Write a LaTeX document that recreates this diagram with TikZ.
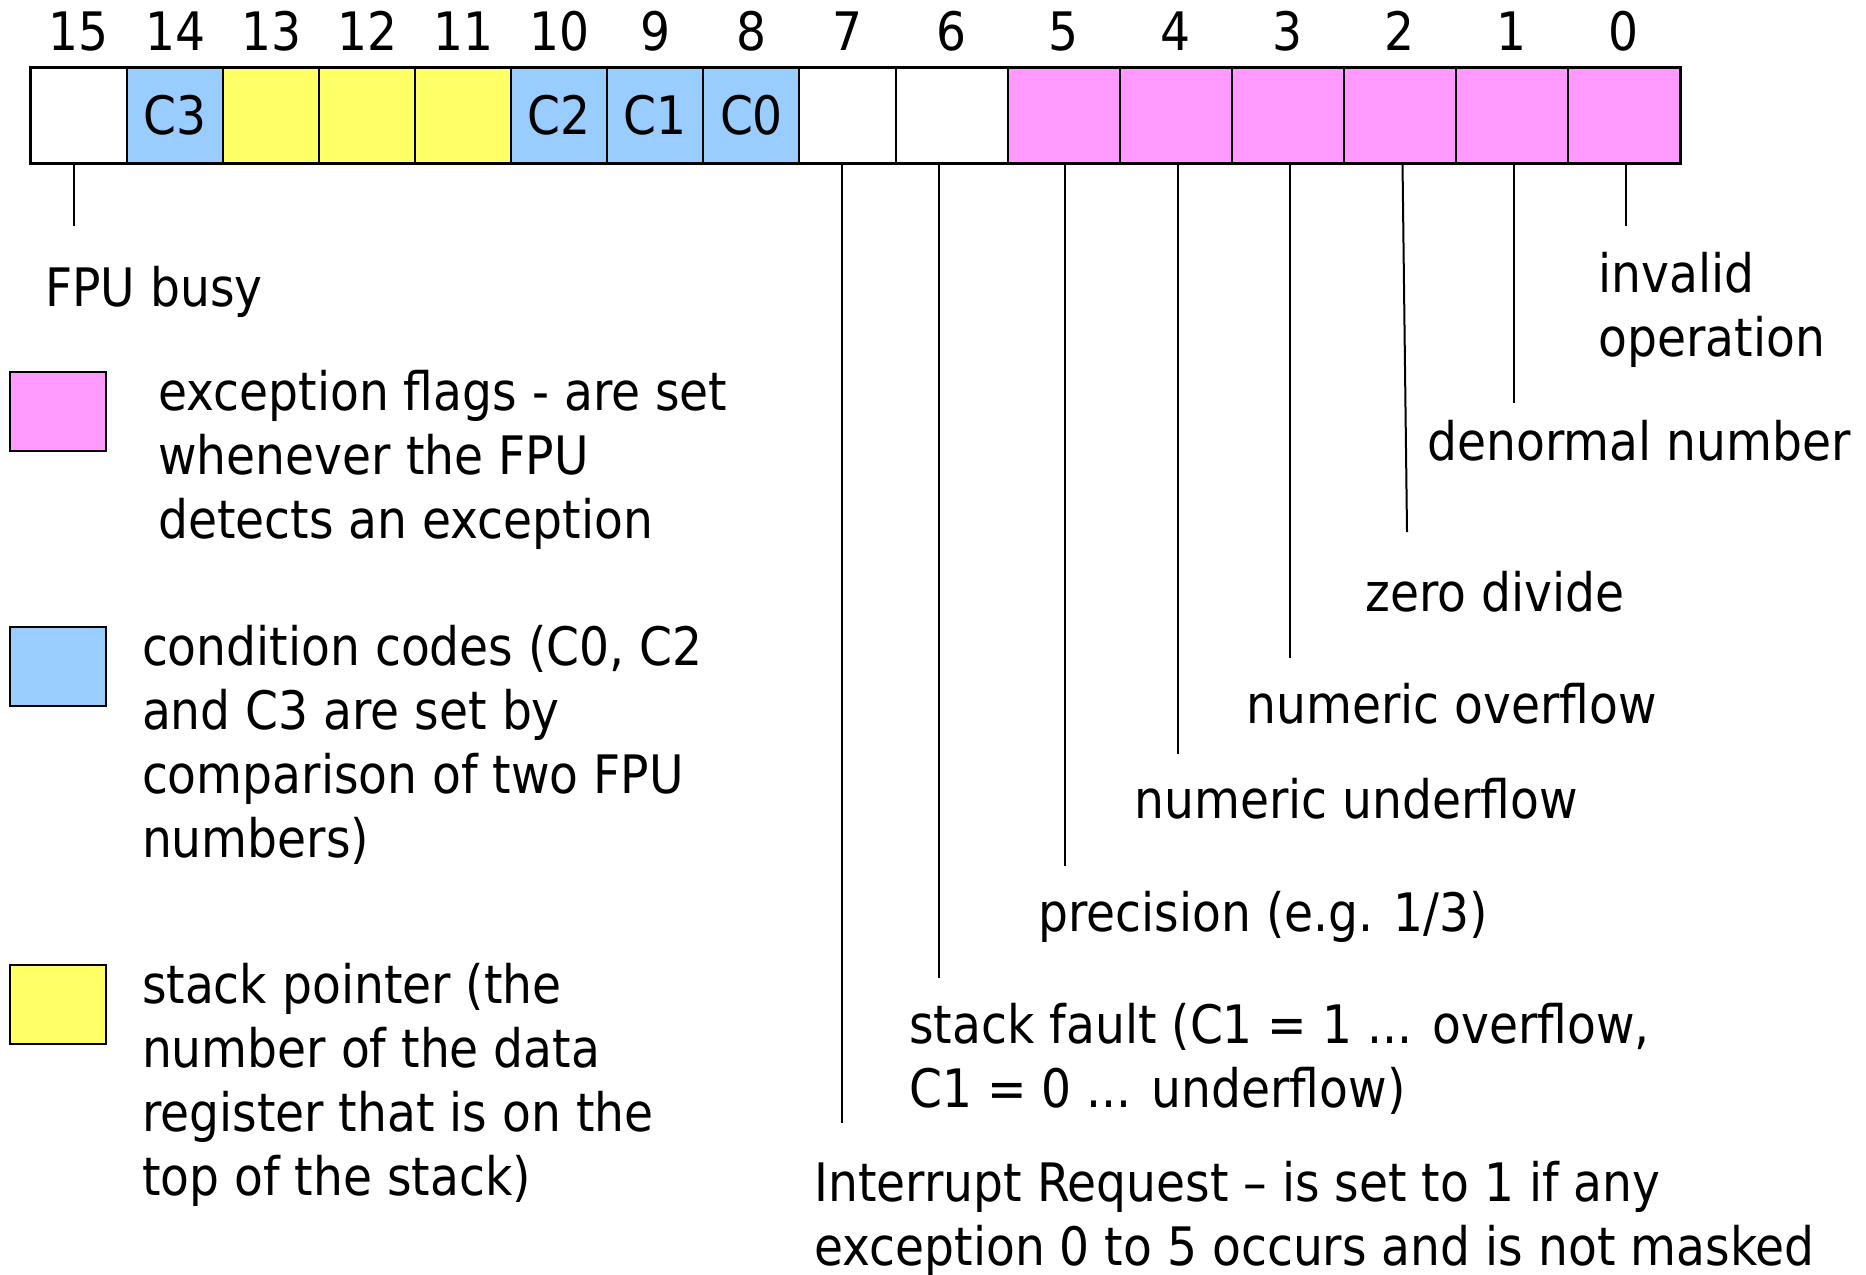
\documentclass[tikz,border=0pt]{standalone}
\usepackage{fontspec}
\setmainfont[FakeStretch=0.89]{DejaVu Sans}
\definecolor{excpink}{HTML}{FF99FF}
\definecolor{condblue}{HTML}{99CCFF}
\definecolor{stackyellow}{HTML}{FFFF66}
\newcommand\lblfont{\fontsize{26.5pt}{32pt}\selectfont}
\begin{document}
\begin{tikzpicture}[x=0.5pt,y=-0.5pt,
  cell/.style={draw=black,line width=1pt,minimum height=47.5pt,inner sep=0pt,font=\lblfont},
  narrow/.style={cell,minimum width=48.03pt},
  wide/.style={cell,minimum width=56pt},
  bitno/.style={anchor=base,inner sep=0pt,font=\lblfont},
  txt/.style={anchor=base west,inner sep=0pt,align=left,font=\lblfont},
  leader/.style={line width=1pt},
  key/.style={draw=black,line width=1pt,minimum width=48.25pt,minimum height=39.5pt,inner sep=0pt}]
\useasboundingbox (0,0) rectangle (1866,1274);

% status word cells, bit 15 down to bit 0
\node[narrow,fill=white]       (b15) at (79.0,115.5) {};
\node[narrow,fill=condblue]    (b14) at (175.1,115.5) {C3};
\node[narrow,fill=stackyellow] (b13) at (271.2,115.5) {};
\node[narrow,fill=stackyellow] (b12) at (367.2,115.5) {};
\node[narrow,fill=stackyellow] (b11) at (463.3,115.5) {};
\node[narrow,fill=condblue]    (b10) at (559.4,115.5) {C2};
\node[narrow,fill=condblue]    (b9)  at (655.4,115.5) {C1};
\node[narrow,fill=condblue]    (b8)  at (751.5,115.5) {C0};
\node[narrow,fill=white]       (b7)  at (847.5,115.5) {};
\node[wide,fill=white]         (b6)  at (951.5,115.5) {};
\node[wide,fill=excpink]       (b5)  at (1063.5,115.5) {};
\node[wide,fill=excpink]       (b4)  at (1175.5,115.5) {};
\node[wide,fill=excpink]       (b3)  at (1287.5,115.5) {};
\node[wide,fill=excpink]       (b2)  at (1399.5,115.5) {};
\node[wide,fill=excpink]       (b1)  at (1511.5,115.5) {};
\node[wide,fill=excpink]       (b0)  at (1623.5,115.5) {};
\draw[line width=1.3pt] (b15.north west) rectangle (b0.south east);

% bit numbers
\foreach \b in {15,14,...,0}
  \node[bitno] (n\b) at (b\b.north |- 0,50) {\b};

% descriptions (multi-line nodes are placed by their last baseline)
\node[txt] (t15) at (45,306) {FPU busy};
\node[txt] (t0) at (1598,356) {invalid\\operation};
\node[txt] (t1) at (1427,460) {denormal number};
\node[txt] (t2) at (1365,611) {zero divide};
\node[txt] (t3) at (1246,723) {numeric overflow};
\node[txt] (t4) at (1134,818) {numeric underflow};
\node[txt] (t5) at (1038,931) {precision (e.g. 1/3)};
\node[txt] (t6) at (909,1107) {stack fault (C1 = 1 ... overflow,\\C1 = 0 ... underflow)};
\node[txt] (t7) at (814,1265) {Interrupt Request – is set to 1 if any\\exception 0 to 5 occurs and is not masked};

% leader lines from the bits to their descriptions
\coordinate (e15) at (74,226);
\coordinate (e7)  at (842,1123);
\coordinate (e6)  at (939,978);
\coordinate (e5)  at (1065,866);
\coordinate (e4)  at (1177.6,754);
\coordinate (e3)  at (1290,658);
\coordinate (e2)  at (1407,532);
\coordinate (e1)  at (1514.4,403);
\coordinate (e0)  at (1626,226);
\foreach \b in {15,7,6,5,4,3,1,0}
  \draw[leader] (e\b |- b\b.south) -- (e\b);
\draw[leader] (1402.5,163) -- (e2);

% legend
\node[key,fill=excpink]     (kp) at (57.75,411.75) {};
\node[key,fill=condblue]    (kb) at (57.75,666.5) {};
\node[key,fill=stackyellow] (ky) at (57.75,1004.5) {};
\node[txt] (lp) at (158,538.5) {exception flags - are set\\whenever the FPU\\detects an exception};
\node[txt] (lb) at (141.6,857.5) {condition codes (C0, C2\\and C3 are set by\\comparison of two FPU\\numbers)};
\node[txt] (ly) at (141.6,1195.5) {stack pointer (the\\number of the data\\register that is on the\\top of the stack)};
\end{tikzpicture}
\end{document}
